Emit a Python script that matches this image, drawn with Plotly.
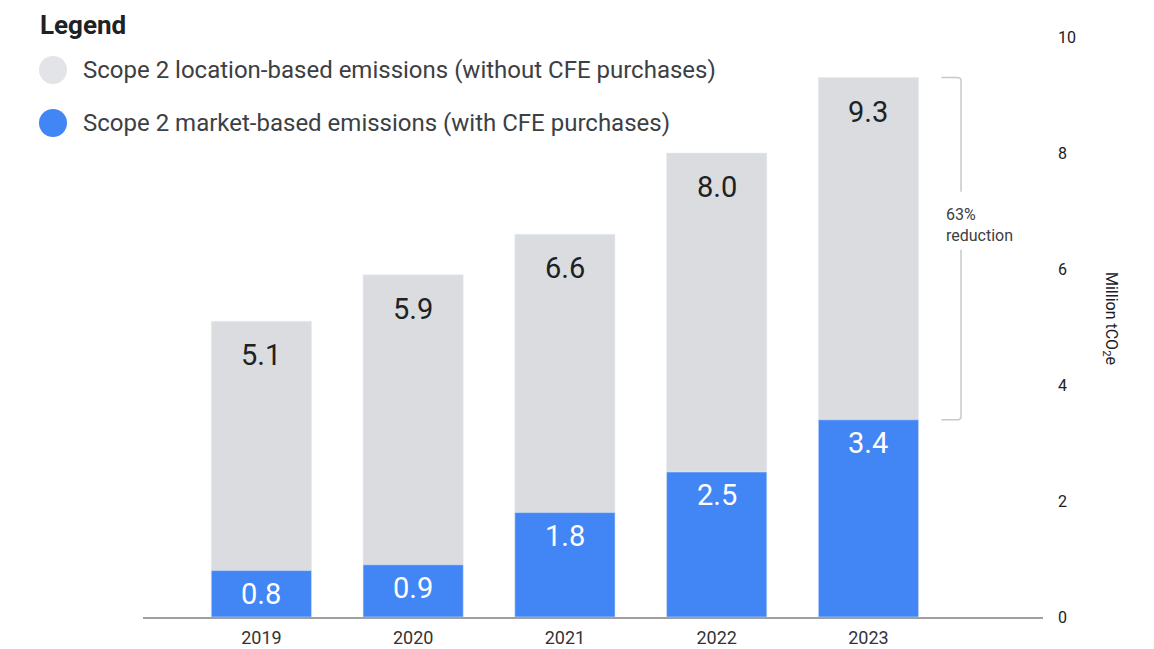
import plotly.graph_objects as go

# Scope 2 emissions, million tCO2e
years = ["2019", "2020", "2021", "2022", "2023"]
location_based = [5.1, 5.9, 6.6, 8.0, 9.3]
market_based = [0.8, 0.9, 1.8, 2.5, 3.4]
y_ticks = [0, 2, 4, 6, 8, 10]
series_names = [
    "Scope 2 location-based emissions (without CFE purchases)",
    "Scope 2 market-based emissions (with CFE purchases)",
]

GRAY = "#dadce0"
GRAY_DOT = "#e3e4e8"
BLUE = "#4285f4"
TEXT = "#202124"
FONT = "Roboto"

W, H = 1154, 649
L, R, T, B = 143, 111, 37, 32
PW, PH = W - L - R, H - T - B


def px_x(px):
    return (px - L) / PW


def px_y(py):
    return (H - B - py) / PH


fig = go.Figure()
fig.add_trace(go.Bar(x=years, y=location_based, marker_color=GRAY, width=0.66,
                     name=series_names[0], hoverinfo="x+y"))
fig.add_trace(go.Bar(x=years, y=market_based, marker_color=BLUE, width=0.66,
                     name=series_names[1], hoverinfo="x+y"))

annotations = []
# value labels inside the bars, near their tops
for i, v in enumerate(location_based):
    annotations.append(dict(x=i, y=v, xref="x", yref="y", text=f"{v:.1f}",
                            showarrow=False, yanchor="top", yshift=-15,
                            font=dict(family=FONT, size=29, color=TEXT)))
for i, v in enumerate(market_based):
    annotations.append(dict(x=i, y=v, xref="x", yref="y", text=f"{v:.1f}",
                            showarrow=False, yanchor="top", yshift=-4,
                            font=dict(family=FONT, size=29, color="white")))

# reduction bracket beside the latest year
top, bottom = location_based[-1], market_based[-1]
reduction = round((1 - bottom / top) * 100)
bx, stub = 4.61, 4.48
mid = (top + bottom) / 2
gap_hi, gap_lo = mid + 0.98, mid - 0.02
line_style = dict(color="#c8c8c8", width=1.5)
shapes = [
    dict(type="path", xref="x", yref="y",
         path=f"M {stub},{top} L {bx - 0.03},{top} Q {bx},{top} {bx},{top - 0.05} L {bx},{gap_hi}",
         line=line_style),
    dict(type="path", xref="x", yref="y",
         path=f"M {bx},{gap_lo} L {bx},{bottom + 0.05} Q {bx},{bottom} {bx - 0.03},{bottom} L {stub},{bottom}",
         line=line_style),
]
annotations.append(dict(x=bx - 0.115, y=gap_hi - 0.2, xref="x", yref="y",
                        text=f"{reduction}%<br>reduction", showarrow=False,
                        xanchor="left", yanchor="top", align="left",
                        font=dict(family=FONT, size=16, color="#3c4043")))

# axis title, reading top to bottom
annotations.append(dict(x=px_x(1111), y=px_y(318), xref="paper", yref="paper",
                        text="Million tCO<sub>2</sub>e", showarrow=False,
                        xanchor="center", yanchor="middle",
                        textangle=90, font=dict(family=FONT, size=16, color=TEXT)))

# custom legend
annotations.append(dict(x=px_x(38), y=px_y(25), xref="paper", yref="paper",
                        text="<b>Legend</b>", showarrow=False,
                        xanchor="left", yanchor="middle",
                        font=dict(family=FONT, size=26, color=TEXT)))
for k, (name, col) in enumerate(zip(series_names, [GRAY_DOT, BLUE])):
    cy = 70 + 53 * k
    shapes.append(dict(type="circle", xref="paper", yref="paper",
                       x0=px_x(39), x1=px_x(67), y0=px_y(cy + 14), y1=px_y(cy - 14),
                       fillcolor=col, line=dict(width=0)))
    annotations.append(dict(x=px_x(81), y=px_y(cy), xref="paper", yref="paper",
                            text=name, showarrow=False,
                            xanchor="left", yanchor="middle",
                            font=dict(family=FONT, size=24, color="#3c4043")))

fig.update_layout(
    width=W, height=H,
    margin=dict(l=L, r=R, t=T, b=B, autoexpand=False),
    barmode="overlay",
    showlegend=False,
    plot_bgcolor="white", paper_bgcolor="white",
    font=dict(family=FONT, color=TEXT),
    shapes=shapes,
    annotations=annotations,
)
fig.update_xaxes(range=[-0.78, 5.15], showline=True, linecolor="#a0a0a0",
                 linewidth=1.5, showgrid=False, ticks="", ticklabelstandoff=4,
                 automargin=False,
                 tickfont=dict(family=FONT, size=18, color="#333333"))
fig.update_yaxes(range=[0, 10], side="right", tickvals=y_ticks, showgrid=False,
                 zeroline=False, showline=False, ticks="", ticklabelstandoff=14,
                 automargin=False,
                 tickfont=dict(family=FONT, size=16, color=TEXT))

fig.write_html("out.html")
